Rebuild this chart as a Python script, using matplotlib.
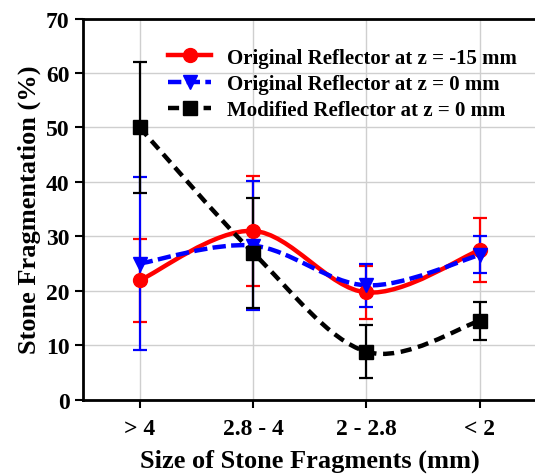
import numpy as np
import matplotlib.pyplot as plt
from matplotlib.path import Path
from matplotlib.patches import PathPatch
from matplotlib.lines import Line2D

plt.rcParams['font.family'] = ['Liberation Serif', 'DejaVu Serif']
plt.rcParams['font.weight'] = 'bold'

sizes = ['> 4', '2.8 - 4', '2 - 2.8', '< 2']

orig_m15 = [21.9, 31.0, 19.7, 27.5]
orig_m15_err = [7.6, 10.1, 4.8, 5.8]

orig_0 = [25.0, 28.3, 21.0, 26.6]
orig_0_err = [15.9, 11.9, 3.9, 3.4]

modified_0 = [50.0, 27.0, 8.8, 14.5]
modified_0_err = [12.1, 10.1, 4.9, 3.45]


def smooth_path(x, y):
    # Catmull-Rom style cubic Bezier through the points (spreadsheet "smoothed line")
    pts = np.column_stack([x, y]).astype(float)
    n = len(pts)
    verts = [pts[0]]
    codes = [Path.MOVETO]
    for i in range(n - 1):
        p0 = pts[max(i - 1, 0)]
        p1 = pts[i]
        p2 = pts[i + 1]
        p3 = pts[min(i + 2, n - 1)]
        c1 = p1 + (p2 - p0) / 6.0
        c2 = p2 - (p3 - p1) / 6.0
        verts += [c1, c2, p2]
        codes += [Path.CURVE4] * 3
    return Path(verts, codes)


fig = plt.figure(figsize=(5.35, 4.77), dpi=100)
ax = fig.add_axes([0.155, 0.160, 0.848, 0.799])

x = np.arange(1, len(sizes) + 1)

series = [
    (orig_m15, orig_m15_err, 'red', '-', 'o', 10, 'Original Reflector at z = -15 mm'),
    (orig_0, orig_0_err, 'blue', (0, (3, 1.2)), 'v', 10.5, 'Original Reflector at z = 0 mm'),
    (modified_0, modified_0_err, 'black', (0, (2.5, 1.5)), 's', 10, 'Modified Reflector at z = 0 mm'),
]

handles = []
for vals, err, col, ls, mk, ms, lab in series:
    ax.errorbar(x, vals, yerr=err, fmt='none', ecolor=col, elinewidth=1.6,
                capsize=5, capthick=1.6, zorder=3)
    ax.add_patch(PathPatch(smooth_path(x, vals), facecolor='none', edgecolor=col,
                           lw=3.2, linestyle=ls, zorder=4))
    ax.plot(x, vals, linestyle='none', marker=mk, ms=ms, color=col, zorder=5)
    handles.append(Line2D([], [], color=col, lw=3.2, linestyle=ls, marker=mk, ms=ms))

ax.set_xlim(0.5, 4.5)
ax.set_ylim(0, 70)
ax.set_xticks(x)
ax.set_xticklabels(sizes)
ax.set_yticks(np.arange(0, 71, 10))
ax.tick_params(axis='both', labelsize=17, width=1.5, length=6, direction='out')
ax.tick_params(axis='x', pad=7)
ax.grid(True, color='#cfcfcf', lw=1)
ax.set_axisbelow(True)

for s in ['left', 'bottom', 'top']:
    ax.spines[s].set_linewidth(2)
ax.spines['right'].set_visible(False)

ax.set_xlabel('Size of Stone Fragments (mm)', fontsize=19, fontweight='bold', labelpad=7)
ax.set_ylabel('Stone Fragmentation (%)', fontsize=19, fontweight='bold', labelpad=4)

fig.legend(handles, [s[-1] for s in series], loc='upper left',
           bbox_to_anchor=(0.294, 0.92), frameon=False, borderpad=0,
           handlelength=2.1, handletextpad=0.75, labelspacing=0.3,
           prop={'weight': 'bold', 'size': 15})

fig.savefig('out.png', dpi=100)
